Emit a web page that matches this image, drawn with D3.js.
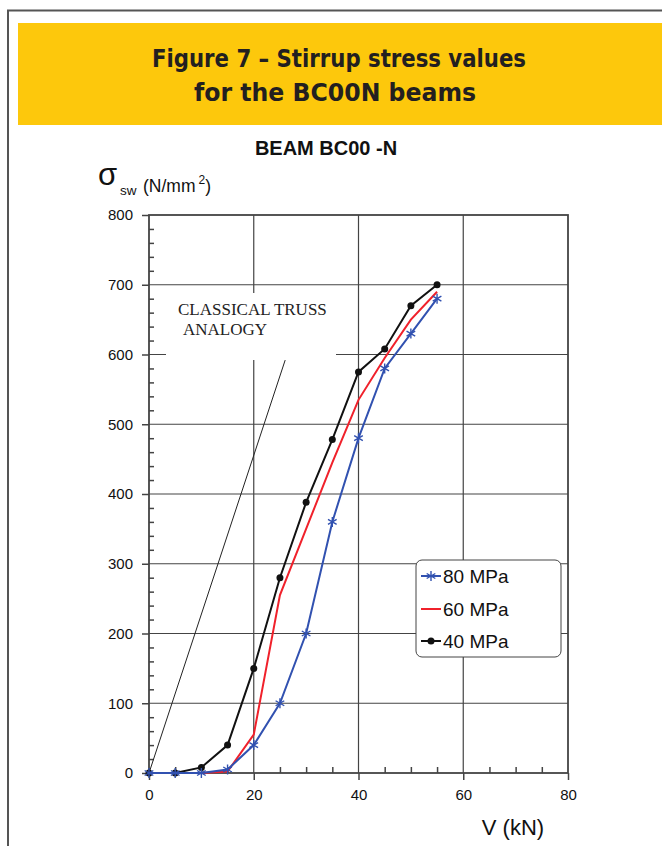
<!DOCTYPE html>
<html><head><meta charset="utf-8">
<script src="https://cdn.jsdelivr.net/npm/d3@7"></script>
<style>body{margin:0;background:#fff}svg{display:block}</style>
</head><body>
<svg id="c" width="662" height="846"></svg>
<script>
// ---- data ----
const loads = [0, 5, 10, 15, 20, 25, 30, 35, 40, 45, 50, 55];           // V (kN)
const stress80 = [0, 0, 0, 5, 40, 100, 200, 360, 480, 580, 630, 680];   // 80 MPa
const stress60 = [0, 0, 0, 2, 55, 255, 350, 445, 535, 595, 650, 690];   // 60 MPa
const stress40 = [0, 0, 8, 40, 150, 280, 388, 478, 575, 608, 670, 700]; // 40 MPa
const seriesNames = ["80 MPa", "60 MPa", "40 MPa"];
const trussV = [0, 26];
const trussStress = [0, 592];
const xTicks = [0, 20, 40, 60, 80];
const yTicks = [0, 100, 200, 300, 400, 500, 600, 700, 800];
const titleLines = ["Figure 7 \u2013 Stirrup stress values", "for the BC00N beams"];
const chartTitle = "BEAM BC00 -N";
const truss = ["CLASSICAL TRUSS", "ANALOGY"];

const colors = ["#3151b0", "#f0212b", "#111111"];
const markers = ["star", "none", "dot"];

const svg = d3.select("#c");
const sans = "'Liberation Sans', Arial, Helvetica, sans-serif";

// outer frame
svg.append("path").attr("d", "M8,846V10.5H662").attr("fill", "none")
  .attr("stroke", "#555").attr("stroke-width", 2);
// yellow band
svg.append("rect").attr("x", 18).attr("y", 23).attr("width", 644).attr("height", 102).attr("fill", "#fdc80c");
const tl = [{ x: 339, y: 67, len: 374 }, { x: 335, y: 101, len: 282 }];
titleLines.forEach((t, i) => {
  svg.append("text").attr("x", tl[i].x).attr("y", tl[i].y).attr("text-anchor", "middle")
    .attr("font-family", "'Liberation Sans Narrow','Arial Narrow','DejaVu Sans Condensed',sans-serif")
    .attr("font-weight", "bold").attr("font-size", 25).attr("fill", "#231f20")
    .attr("textLength", tl[i].len).attr("lengthAdjust", "spacingAndGlyphs").text(t);
});

// chart title
svg.append("text").attr("x", 326).attr("y", 155).attr("text-anchor", "middle")
  .attr("font-family", sans).attr("font-weight", "bold").attr("font-size", 20).attr("fill", "#111").text(chartTitle);

// scales
const x = d3.scaleLinear().domain([0, 80]).range([149, 568]);
const y = d3.scaleLinear().domain([0, 800]).range([773, 215]);

// gridlines
const g = svg.append("g");
g.selectAll(".hg").data(yTicks.slice(1, -1)).join("line")
  .attr("x1", x(0)).attr("x2", x(80)).attr("y1", d => y(d)).attr("y2", d => y(d))
  .attr("stroke", "#444").attr("stroke-width", 1.2);
g.selectAll(".vg").data(xTicks.slice(1, -1)).join("line")
  .attr("y1", y(0)).attr("y2", y(800)).attr("x1", d => x(d)).attr("x2", d => x(d))
  .attr("stroke", "#444").attr("stroke-width", 1.2);

// white label area
svg.append("rect").attr("x", 166).attr("y", 293).attr("width", 170).attr("height", 67).attr("fill", "#fff");

// frame
svg.append("rect").attr("x", x(0)).attr("y", y(800)).attr("width", x(80) - x(0)).attr("height", y(0) - y(800))
  .attr("fill", "none").attr("stroke", "#444").attr("stroke-width", 1.8);

// axes
const axFont = sel => sel.selectAll("text").attr("font-family", sans).attr("font-size", 15).attr("fill", "#111");
const yAx = svg.append("g").attr("transform", `translate(${x(0)},0)`)
  .call(d3.axisLeft(y).tickValues(yTicks).tickSize(7).tickPadding(9));
yAx.select(".domain").remove(); yAx.selectAll("line").attr("stroke", "#444").attr("stroke-width", 1.5);
axFont(yAx);
const yMin = svg.append("g").attr("transform", `translate(${x(0)},0)`)
  .call(d3.axisLeft(y).tickValues(d3.range(0, 801, 20).filter(v => v % 100)).tickSize(-5).tickFormat(""));
yMin.select(".domain").remove(); yMin.selectAll("line").attr("stroke", "#444").attr("stroke-width", 1.5);

const xAx = svg.append("g").attr("transform", `translate(0,${y(0)})`)
  .call(d3.axisBottom(x).tickValues(xTicks).tickSize(7).tickPadding(9));
xAx.select(".domain").remove(); xAx.selectAll("line").attr("stroke", "#444").attr("stroke-width", 1.5);
axFont(xAx);
const xMin = svg.append("g").attr("transform", `translate(0,${y(0)})`)
  .call(d3.axisBottom(x).tickValues(d3.range(0, 81, 5).filter(v => v % 20)).tickSize(-6).tickFormat(""));
xMin.select(".domain").remove(); xMin.selectAll("line").attr("stroke", "#444").attr("stroke-width", 1.5);

// axis titles
const yl = svg.append("g").attr("font-family", sans).attr("fill", "#111");
yl.append("text").attr("x", 98).attr("y", 185).attr("font-size", 31).text("\u03c3");
yl.append("text").attr("x", 120).attr("y", 195).attr("font-size", 13.5).text("sw");
const u = yl.append("text").attr("x", 143).attr("y", 192).attr("font-size", 17.5);
u.append("tspan").text("(N/mm");
u.append("tspan").attr("dx", 3).attr("dy", -8).attr("font-size", 12).text("2");
u.append("tspan").attr("dy", 8).text(")");
svg.append("text").attr("x", 513).attr("y", 835).attr("text-anchor", "middle")
  .attr("font-family", sans).attr("font-size", 22).attr("fill", "#111").text("V (kN)");

// classical truss line
svg.append("line").attr("x1", x(trussV[0])).attr("y1", y(trussStress[0]))
  .attr("x2", x(trussV[1])).attr("y2", y(trussStress[1])).attr("stroke", "#222").attr("stroke-width", 1);
const tt = svg.append("g").attr("font-family", "'Liberation Serif','Times New Roman',serif").attr("font-size", 17).attr("fill", "#222");
tt.append("text").attr("x", 178).attr("y", 315).text(truss[0]);
tt.append("text").attr("x", 183).attr("y", 335).text(truss[1]);

// series
const allSeries = [stress80, stress60, stress40];
const line = d3.line().x(d => x(d[0])).y(d => y(d[1]));
const starPath = (cx, cy, r) => {
  let p = "";
  [90, 30, 150].forEach(a => {
    const dx = r * Math.cos(a * Math.PI / 180), dy = r * Math.sin(a * Math.PI / 180);
    p += `M${cx - dx},${cy - dy}L${cx + dx},${cy + dy}`;
  });
  return p;
};
const drawMarker = (sel, type, cx, cy, c) => {
  if (type === "star") sel.append("path").attr("d", starPath(cx, cy, 5)).attr("stroke", c).attr("stroke-width", 1.4).attr("fill", "none");
  else if (type === "dot") sel.append("circle").attr("cx", cx).attr("cy", cy).attr("r", 3.5).attr("fill", c);
};
[2, 1, 0].forEach(i => {
  const pts = loads.map((v, k) => [v, allSeries[i][k]]);
  const gs = svg.append("g");
  gs.append("path").attr("d", line(pts)).attr("fill", "none").attr("stroke", colors[i]).attr("stroke-width", 2);
  pts.forEach(p => drawMarker(gs, markers[i], x(p[0]), y(p[1]), colors[i]));
});

// legend
const lg = svg.append("g");
lg.append("rect").attr("x", 416).attr("y", 560).attr("width", 145).attr("height", 97).attr("rx", 6)
  .attr("fill", "#fff").attr("stroke", "#444").attr("stroke-width", 1);
const ly = [576, 609, 641];
seriesNames.forEach((n, i) => {
  lg.append("line").attr("x1", 421).attr("x2", 441).attr("y1", ly[i]).attr("y2", ly[i]).attr("stroke", colors[i]).attr("stroke-width", 2);
  drawMarker(lg, markers[i], 431, ly[i], colors[i]);
  lg.append("text").attr("x", 443).attr("y", ly[i] + 7).attr("font-family", sans).attr("font-size", 19).attr("fill", "#111").text(n);
});
</script>
</body></html>
